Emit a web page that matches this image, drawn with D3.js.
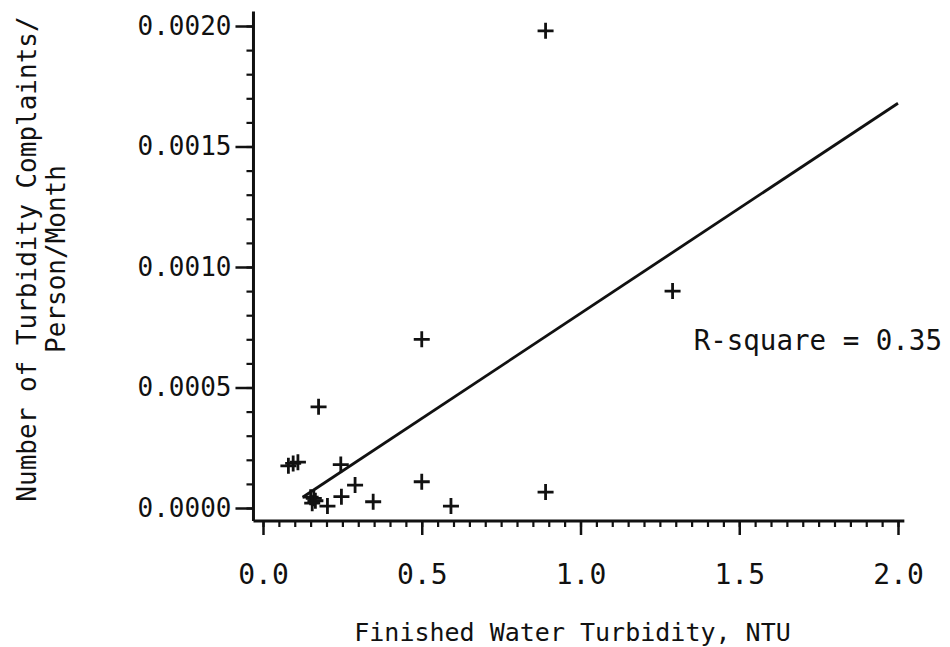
<!DOCTYPE html>
<html>
<head>
<meta charset="utf-8">
<script src="https://cdn.jsdelivr.net/npm/d3@7"></script>
<style>
  body { margin: 0; background: #fff; }
  text { font-family: "DejaVu Sans Mono", monospace; fill: #111; }
</style>
</head>
<body>
<div id="chart"></div>
<script>
// values
var turbidity  = [0.89, 1.29, 0.50, 0.175, 0.08, 0.095, 0.11, 0.245, 0.29, 0.247, 0.347, 0.50, 0.592, 0.89, 0.203, 0.15, 0.16, 0.165, 0.155];
var complaints = [0.00198, 0.00090, 0.00070, 0.00042, 0.000175, 0.000185, 0.00019, 0.00018, 0.000095, 0.000047, 0.000026, 0.000109, 0.000008, 0.000066, 0.000008, 0.000045, 0.00004, 0.00003, 0.00002];
var xTicks = [0, 0.5, 1.0, 1.5, 2.0];
var yTicks = [0, 0.0005, 0.0010, 0.0015, 0.0020];
var fit = { slope: 0.000872, intercept: -0.0000645, from: 0.125, to: 2.0 };
var rSquare = "R-square = 0.35";

var width = 950, height = 647;

var x = d3.scaleLinear().domain([0, 2]).range([263, 898]);
var y = d3.scaleLinear().domain([0, 0.002]).range([508, 26]);

// axis frame extends a bit past the tick range
var frame = { left: -0.03, right: 2.02, bottom: -0.000054, top: 0.00206 };

var svg = d3.select("#chart").append("svg")
    .attr("width", width)
    .attr("height", height);

var ink = "#111";

// minor ticks
svg.append("g")
    .attr("transform", `translate(0, ${y(frame.bottom)})`)
    .call(d3.axisBottom(x).tickValues(d3.range(0, 41).map(i => i * 0.05)).tickSize(6).tickFormat(""))
    .call(g => g.select(".domain").remove())
    .selectAll("line").attr("stroke", ink).attr("stroke-width", 2.2);

svg.append("g")
    .attr("transform", `translate(${x(frame.left)}, 0)`)
    .call(d3.axisLeft(y).tickValues(d3.range(0, 21).map(i => i * 0.0001)).tickSize(7).tickFormat(""))
    .call(g => g.select(".domain").remove())
    .selectAll("line").attr("stroke", ink).attr("stroke-width", 2.2);

// major ticks + labels
var xAxis = svg.append("g")
    .attr("transform", `translate(0, ${y(frame.bottom)})`)
    .call(d3.axisBottom(x).tickValues(xTicks).tickSize(14).tickPadding(29).tickFormat(d3.format(".1f")));
xAxis.select(".domain").remove();
xAxis.selectAll("line").attr("stroke", ink).attr("stroke-width", 2.5);
xAxis.selectAll("text").attr("font-size", 28).attr("font-family", "DejaVu Sans Mono").attr("fill", ink);

var yAxis = svg.append("g")
    .attr("transform", `translate(${x(frame.left)}, 0)`)
    .call(d3.axisLeft(y).tickValues(yTicks).tickSize(18).tickPadding(4).tickFormat(d3.format(".4f")));
yAxis.select(".domain").remove();
yAxis.selectAll("line").attr("stroke", ink).attr("stroke-width", 2.5);
yAxis.selectAll("text").attr("font-size", 26).attr("font-family", "DejaVu Sans Mono").attr("fill", ink);

// axis lines
svg.append("line")
    .attr("x1", x(frame.left)).attr("x2", x(frame.left))
    .attr("y1", y(frame.top)).attr("y2", y(frame.bottom))
    .attr("stroke", ink).attr("stroke-width", 3);
svg.append("line")
    .attr("x1", x(frame.left)).attr("x2", x(frame.right))
    .attr("y1", y(frame.bottom)).attr("y2", y(frame.bottom))
    .attr("stroke", ink).attr("stroke-width", 3);

// regression line
svg.append("line")
    .attr("x1", x(fit.from)).attr("y1", y(fit.intercept + fit.slope * fit.from))
    .attr("x2", x(fit.to)).attr("y2", y(fit.intercept + fit.slope * fit.to))
    .attr("stroke", ink).attr("stroke-width", 2.8);

// plus markers
var pts = turbidity.map((t, i) => ({ t: t, c: complaints[i] }));
svg.append("g").selectAll("path")
    .data(pts)
    .enter()
    .append("path")
    .attr("transform", d => `translate(${x(d.t)}, ${y(d.c)})`)
    .attr("d", "M-8,0H8M0,-8V8")
    .attr("stroke", ink)
    .attr("stroke-width", 2.8)
    .attr("fill", "none");

// labels
svg.append("text")
    .attr("x", x(1.0) - 8).attr("y", 641)
    .attr("text-anchor", "middle")
    .attr("font-size", 25)
    .text("Finished Water Turbidity, NTU");

var yl = svg.append("text")
    .attr("transform", "translate(36, 259) rotate(-90)")
    .attr("text-anchor", "middle")
    .attr("font-size", 26);
yl.append("tspan").attr("x", 0).attr("y", 0).text("Number of Turbidity Complaints/");
yl.append("tspan").attr("x", 0).attr("y", 29).text("Person/Month");

svg.append("text")
    .attr("x", 942).attr("y", 350)
    .attr("text-anchor", "end")
    .attr("font-size", 27.5)
    .text(rSquare);
</script>
</body>
</html>
